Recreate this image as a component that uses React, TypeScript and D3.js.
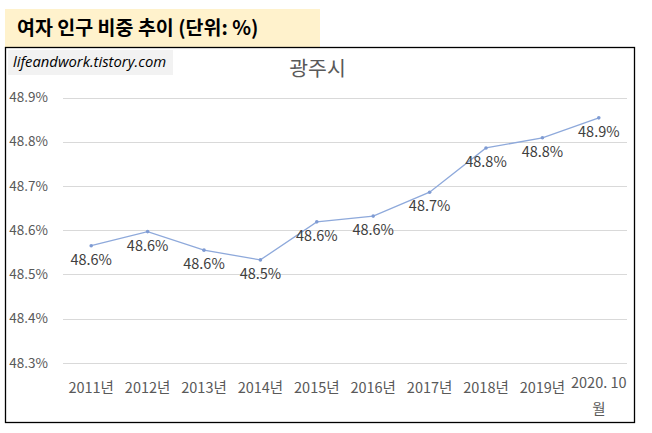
import { useEffect, useRef } from "react";
import * as d3 from "d3";

const categories = [
  "2011년",
  "2012년",
  "2013년",
  "2014년",
  "2015년",
  "2016년",
  "2017년",
  "2018년",
  "2019년",
  "2020. 10월",
];
const values = [48.565, 48.597, 48.555, 48.533, 48.619, 48.632, 48.686, 48.786, 48.809, 48.854];
const yTicks = [48.3, 48.4, 48.5, 48.6, 48.7, 48.8, 48.9];

const KR = "'Malgun Gothic', 'Noto Sans CJK KR', sans-serif";

const App = () => {
  const chartRef = useRef<SVGSVGElement>(null);

  useEffect(() => {
    document.body.style.margin = "0";
    const svg = d3.select(chartRef.current);
    svg.selectAll("*").remove();

    // heading box
    svg.append("rect").attr("x", 5).attr("y", 9).attr("width", 315).attr("height", 38).attr("fill", "#FFF2CC");
    svg
      .append("text")
      .attr("x", 17)
      .attr("y", 35)
      .attr("font-family", KR)
      .attr("font-weight", "bold")
      .attr("font-size", 19.5)
      .attr("fill", "#000")
      .text("여자 인구 비중 추이 (단위: %)");

    // chart frame
    svg
      .append("rect")
      .attr("x", 5.5)
      .attr("y", 47.5)
      .attr("width", 629)
      .attr("height", 375)
      .attr("fill", "#fff")
      .attr("stroke", "#000")
      .attr("stroke-width", 1.3);

    // watermark
    svg.append("rect").attr("x", 8).attr("y", 50).attr("width", 165).attr("height", 25).attr("fill", "#F2F2F2");
    svg
      .append("text")
      .attr("x", 13)
      .attr("y", 67)
      .attr("font-family", "'Open Sans', sans-serif")
      .attr("font-style", "italic")
      .attr("font-size", 14.8)
      .attr("fill", "#000")
      .text("lifeandwork.tistory.com");

    // chart title
    svg
      .append("text")
      .attr("x", 317.5)
      .attr("y", 76)
      .attr("text-anchor", "middle")
      .attr("font-family", KR)
      .attr("font-size", 20.5)
      .attr("fill", "#595959")
      .text("광주시");

    const x = d3.scalePoint<string>().domain(categories).range([63, 627]).padding(0.5);
    const y = d3.scaleLinear().domain([48.3, 48.9]).range([363, 97.5]);

    // gridlines + y labels
    const yg = svg.append("g");
    yg.selectAll("line")
      .data(yTicks)
      .enter()
      .append("line")
      .attr("x1", 63)
      .attr("x2", 627)
      .attr("y1", (d) => Math.round(y(d)) + 0.5)
      .attr("y2", (d) => Math.round(y(d)) + 0.5)
      .attr("stroke", "#D9D9D9")
      .attr("stroke-width", 1);
    yg.selectAll("text")
      .data(yTicks)
      .enter()
      .append("text")
      .attr("x", 48)
      .attr("y", (d) => y(d))
      .attr("dy", "0.35em")
      .attr("text-anchor", "end")
      .attr("font-family", KR)
      .attr("font-size", 13.5)
      .attr("fill", "#595959")
      .text((d) => d3.format(".1f")(d) + "%");

    // x labels
    const xg = svg.append("g");
    categories.forEach((c) => {
      const lines = c.length > 6 ? [c.slice(0, -1), c.slice(-1)] : [c];
      const t = xg
        .append("text")
        .attr("x", x(c)!)
        .attr("y", lines.length > 1 ? 388 : 393)
        .attr("text-anchor", "middle")
        .attr("font-family", KR)
        .attr("font-size", 14.5)
        .attr("fill", "#595959");
      lines.forEach((l, i) => {
        t.append("tspan")
          .attr("x", x(c)!)
          .attr("dy", i === 0 ? 0 : 26)
          .text(l);
      });
    });

    // series line
    const pts = categories.map((c, i) => ({ c, v: values[i] }));
    const line = d3
      .line<{ c: string; v: number }>()
      .x((d) => x(d.c)!)
      .y((d) => y(d.v));
    svg
      .append("path")
      .datum(pts)
      .attr("d", line)
      .attr("fill", "none")
      .attr("stroke", "#8EA9DB")
      .attr("stroke-width", 1.3);
    svg
      .selectAll(".dot")
      .data(pts)
      .enter()
      .append("circle")
      .attr("class", "dot")
      .attr("cx", (d) => x(d.c)!)
      .attr("cy", (d) => y(d.v))
      .attr("r", 1.8)
      .attr("fill", "#7F9BD3");

    // data labels
    svg
      .selectAll(".lbl")
      .data(pts)
      .enter()
      .append("text")
      .attr("class", "lbl")
      .attr("x", (d) => x(d.c)!)
      .attr("y", (d) => y(d.v) + 14)
      .attr("dy", "0.35em")
      .attr("text-anchor", "middle")
      .attr("font-family", KR)
      .attr("font-size", 14.5)
      .attr("fill", "#404040")
      .text((d) => d3.format(".1f")(d.v) + "%");
  }, []);

  return <svg ref={chartRef} width={652} height={433} style={{ display: "block" }}></svg>;
};

export default App;
